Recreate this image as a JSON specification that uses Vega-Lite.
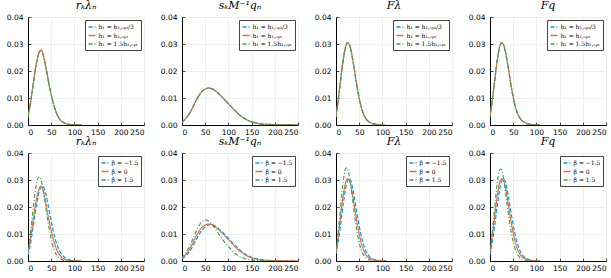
{
"$schema": "https://vega.github.io/schema/vega-lite/v6.json",
"background": "white",
"padding": {"left": 6, "top": 0, "right": 4, "bottom": 1},
"config": {
  "view": {"stroke": null},
  "font": "DejaVu Sans",
  "title": {"font": "DejaVu Serif", "fontStyle": "italic", "fontWeight": "normal", "fontSize": 11, "offset": 2, "anchor": "middle", "color": "#000"},
  "axis": {"grid": true, "gridColor": "#e4e4e4", "gridWidth": 0.6, "domainColor": "#000", "domainWidth": 1, "ticks": true, "tickSize": -3, "tickColor": "#222", "tickWidth": 0.8, "labelFontSize": 7.5, "labelColor": "#000", "labelPadding": 8, "title": null},
  "axisX": {"labelPadding": 6},
  "legend": {"orient": "top-right", "offset": 3, "padding": 2.5, "strokeColor": "#444", "fillColor": "white", "cornerRadius": 0, "labelFontSize": 6, "labelFont": "DejaVu Serif", "labelColor": "#000", "symbolType": "stroke", "symbolSize": 49, "symbolStrokeWidth": 1.3, "rowPadding": 0.5, "labelOffset": 2, "title": null}
},
"data": {"values": [
{"p":1,"s":"a","x":0,"y":0.0029},{"p":1,"s":"a","x":4,"y":0.0067},{"p":1,"s":"a","x":8,"y":0.0111},{"p":1,"s":"a","x":12,"y":0.016},{"p":1,"s":"a","x":16,"y":0.0208},{"p":1,"s":"a","x":20,"y":0.0245},{"p":1,"s":"a","x":24,"y":0.0269},{"p":1,"s":"a","x":28,"y":0.0277},{"p":1,"s":"a","x":32,"y":0.0266},{"p":1,"s":"a","x":36,"y":0.0237},{"p":1,"s":"a","x":40,"y":0.02},{"p":1,"s":"a","x":44,"y":0.0162},{"p":1,"s":"a","x":48,"y":0.0128},{"p":1,"s":"a","x":52,"y":0.0098},{"p":1,"s":"a","x":56,"y":0.0072},{"p":1,"s":"a","x":60,"y":0.005},{"p":1,"s":"a","x":65,"y":0.0031},{"p":1,"s":"a","x":70,"y":0.0018},{"p":1,"s":"a","x":75,"y":0.0011},{"p":1,"s":"a","x":80,"y":0.0006},{"p":1,"s":"a","x":90,"y":0.0002},{"p":1,"s":"a","x":100,"y":0.0001},{"p":1,"s":"a","x":115,"y":0},
{"p":1,"s":"b","x":0,"y":0.003},{"p":1,"s":"b","x":4,"y":0.0068},{"p":1,"s":"b","x":8,"y":0.0112},{"p":1,"s":"b","x":12,"y":0.0161},{"p":1,"s":"b","x":16,"y":0.0208},{"p":1,"s":"b","x":20,"y":0.0244},{"p":1,"s":"b","x":24,"y":0.0268},{"p":1,"s":"b","x":28,"y":0.0277},{"p":1,"s":"b","x":32,"y":0.0265},{"p":1,"s":"b","x":36,"y":0.0236},{"p":1,"s":"b","x":40,"y":0.0199},{"p":1,"s":"b","x":44,"y":0.0162},{"p":1,"s":"b","x":48,"y":0.0128},{"p":1,"s":"b","x":52,"y":0.0098},{"p":1,"s":"b","x":56,"y":0.0072},{"p":1,"s":"b","x":60,"y":0.005},{"p":1,"s":"b","x":65,"y":0.0031},{"p":1,"s":"b","x":70,"y":0.0018},{"p":1,"s":"b","x":75,"y":0.0011},{"p":1,"s":"b","x":80,"y":0.0006},{"p":1,"s":"b","x":90,"y":0.0002},{"p":1,"s":"b","x":100,"y":0.0001},{"p":1,"s":"b","x":115,"y":0},
{"p":1,"s":"c","x":0,"y":0.0031},{"p":1,"s":"c","x":4,"y":0.0069},{"p":1,"s":"c","x":8,"y":0.0113},{"p":1,"s":"c","x":12,"y":0.0162},{"p":1,"s":"c","x":16,"y":0.0208},{"p":1,"s":"c","x":20,"y":0.0244},{"p":1,"s":"c","x":24,"y":0.0268},{"p":1,"s":"c","x":28,"y":0.0278},{"p":1,"s":"c","x":32,"y":0.0265},{"p":1,"s":"c","x":36,"y":0.0236},{"p":1,"s":"c","x":40,"y":0.0198},{"p":1,"s":"c","x":44,"y":0.0161},{"p":1,"s":"c","x":48,"y":0.0128},{"p":1,"s":"c","x":52,"y":0.0098},{"p":1,"s":"c","x":56,"y":0.0072},{"p":1,"s":"c","x":60,"y":0.005},{"p":1,"s":"c","x":65,"y":0.0031},{"p":1,"s":"c","x":70,"y":0.0018},{"p":1,"s":"c","x":75,"y":0.0011},{"p":1,"s":"c","x":80,"y":0.0006},{"p":1,"s":"c","x":90,"y":0.0002},{"p":1,"s":"c","x":100,"y":0.0001},{"p":1,"s":"c","x":115,"y":0},
{"p":2,"s":"a","x":0,"y":0.001},{"p":2,"s":"a","x":10,"y":0.0028},{"p":2,"s":"a","x":20,"y":0.0054},{"p":2,"s":"a","x":30,"y":0.0089},{"p":2,"s":"a","x":40,"y":0.0118},{"p":2,"s":"a","x":50,"y":0.0134},{"p":2,"s":"a","x":57,"y":0.0137},{"p":2,"s":"a","x":65,"y":0.0134},{"p":2,"s":"a","x":75,"y":0.0122},{"p":2,"s":"a","x":85,"y":0.0106},{"p":2,"s":"a","x":95,"y":0.0088},{"p":2,"s":"a","x":105,"y":0.007},{"p":2,"s":"a","x":115,"y":0.0052},{"p":2,"s":"a","x":125,"y":0.0036},{"p":2,"s":"a","x":135,"y":0.0024},{"p":2,"s":"a","x":145,"y":0.0015},{"p":2,"s":"a","x":155,"y":0.0009},{"p":2,"s":"a","x":170,"y":0.0004},{"p":2,"s":"a","x":190,"y":0.0002},{"p":2,"s":"a","x":210,"y":0.0001},{"p":2,"s":"a","x":250,"y":0},
{"p":2,"s":"b","x":0,"y":0.001},{"p":2,"s":"b","x":10,"y":0.0028},{"p":2,"s":"b","x":20,"y":0.0055},{"p":2,"s":"b","x":30,"y":0.009},{"p":2,"s":"b","x":40,"y":0.0118},{"p":2,"s":"b","x":50,"y":0.0133},{"p":2,"s":"b","x":57,"y":0.0137},{"p":2,"s":"b","x":65,"y":0.0134},{"p":2,"s":"b","x":75,"y":0.0122},{"p":2,"s":"b","x":85,"y":0.0106},{"p":2,"s":"b","x":95,"y":0.0088},{"p":2,"s":"b","x":105,"y":0.007},{"p":2,"s":"b","x":115,"y":0.0052},{"p":2,"s":"b","x":125,"y":0.0036},{"p":2,"s":"b","x":135,"y":0.0024},{"p":2,"s":"b","x":145,"y":0.0015},{"p":2,"s":"b","x":155,"y":0.0009},{"p":2,"s":"b","x":170,"y":0.0004},{"p":2,"s":"b","x":190,"y":0.0002},{"p":2,"s":"b","x":210,"y":0.0001},{"p":2,"s":"b","x":250,"y":0},
{"p":2,"s":"c","x":0,"y":0.0011},{"p":2,"s":"c","x":10,"y":0.0029},{"p":2,"s":"c","x":20,"y":0.0055},{"p":2,"s":"c","x":30,"y":0.009},{"p":2,"s":"c","x":40,"y":0.0118},{"p":2,"s":"c","x":50,"y":0.0133},{"p":2,"s":"c","x":57,"y":0.0136},{"p":2,"s":"c","x":65,"y":0.0134},{"p":2,"s":"c","x":75,"y":0.0122},{"p":2,"s":"c","x":85,"y":0.0106},{"p":2,"s":"c","x":95,"y":0.0088},{"p":2,"s":"c","x":105,"y":0.007},{"p":2,"s":"c","x":115,"y":0.0052},{"p":2,"s":"c","x":125,"y":0.0036},{"p":2,"s":"c","x":135,"y":0.0024},{"p":2,"s":"c","x":145,"y":0.0015},{"p":2,"s":"c","x":155,"y":0.0009},{"p":2,"s":"c","x":170,"y":0.0004},{"p":2,"s":"c","x":190,"y":0.0002},{"p":2,"s":"c","x":210,"y":0.0001},{"p":2,"s":"c","x":250,"y":0},
{"p":3,"s":"a","x":0,"y":0.0029},{"p":3,"s":"a","x":4,"y":0.0081},{"p":3,"s":"a","x":8,"y":0.0137},{"p":3,"s":"a","x":12,"y":0.0195},{"p":3,"s":"a","x":16,"y":0.0247},{"p":3,"s":"a","x":20,"y":0.0284},{"p":3,"s":"a","x":25,"y":0.0304},{"p":3,"s":"a","x":30,"y":0.0293},{"p":3,"s":"a","x":34,"y":0.0262},{"p":3,"s":"a","x":38,"y":0.0222},{"p":3,"s":"a","x":42,"y":0.0178},{"p":3,"s":"a","x":46,"y":0.0136},{"p":3,"s":"a","x":50,"y":0.0099},{"p":3,"s":"a","x":55,"y":0.0063},{"p":3,"s":"a","x":60,"y":0.0038},{"p":3,"s":"a","x":65,"y":0.0022},{"p":3,"s":"a","x":70,"y":0.0013},{"p":3,"s":"a","x":75,"y":0.0008},{"p":3,"s":"a","x":80,"y":0.0005},{"p":3,"s":"a","x":90,"y":0.0002},{"p":3,"s":"a","x":105,"y":0},
{"p":3,"s":"b","x":0,"y":0.003},{"p":3,"s":"b","x":4,"y":0.0082},{"p":3,"s":"b","x":8,"y":0.0138},{"p":3,"s":"b","x":12,"y":0.0196},{"p":3,"s":"b","x":16,"y":0.0248},{"p":3,"s":"b","x":20,"y":0.0285},{"p":3,"s":"b","x":25,"y":0.0305},{"p":3,"s":"b","x":30,"y":0.0293},{"p":3,"s":"b","x":34,"y":0.0262},{"p":3,"s":"b","x":38,"y":0.0222},{"p":3,"s":"b","x":42,"y":0.0178},{"p":3,"s":"b","x":46,"y":0.0136},{"p":3,"s":"b","x":50,"y":0.0099},{"p":3,"s":"b","x":55,"y":0.0063},{"p":3,"s":"b","x":60,"y":0.0038},{"p":3,"s":"b","x":65,"y":0.0022},{"p":3,"s":"b","x":70,"y":0.0013},{"p":3,"s":"b","x":75,"y":0.0008},{"p":3,"s":"b","x":80,"y":0.0005},{"p":3,"s":"b","x":90,"y":0.0002},{"p":3,"s":"b","x":105,"y":0},
{"p":3,"s":"c","x":0,"y":0.0031},{"p":3,"s":"c","x":4,"y":0.0083},{"p":3,"s":"c","x":8,"y":0.0139},{"p":3,"s":"c","x":12,"y":0.0196},{"p":3,"s":"c","x":16,"y":0.0248},{"p":3,"s":"c","x":20,"y":0.0285},{"p":3,"s":"c","x":25,"y":0.0305},{"p":3,"s":"c","x":30,"y":0.0292},{"p":3,"s":"c","x":34,"y":0.0261},{"p":3,"s":"c","x":38,"y":0.0221},{"p":3,"s":"c","x":42,"y":0.0178},{"p":3,"s":"c","x":46,"y":0.0136},{"p":3,"s":"c","x":50,"y":0.0099},{"p":3,"s":"c","x":55,"y":0.0063},{"p":3,"s":"c","x":60,"y":0.0038},{"p":3,"s":"c","x":65,"y":0.0022},{"p":3,"s":"c","x":70,"y":0.0013},{"p":3,"s":"c","x":75,"y":0.0008},{"p":3,"s":"c","x":80,"y":0.0005},{"p":3,"s":"c","x":90,"y":0.0002},{"p":3,"s":"c","x":105,"y":0},
{"p":4,"s":"a","x":0,"y":0.0029},{"p":4,"s":"a","x":4,"y":0.0079},{"p":4,"s":"a","x":8,"y":0.0134},{"p":4,"s":"a","x":12,"y":0.0192},{"p":4,"s":"a","x":16,"y":0.0244},{"p":4,"s":"a","x":20,"y":0.0283},{"p":4,"s":"a","x":25,"y":0.0304},{"p":4,"s":"a","x":30,"y":0.0294},{"p":4,"s":"a","x":34,"y":0.0265},{"p":4,"s":"a","x":38,"y":0.0226},{"p":4,"s":"a","x":42,"y":0.0183},{"p":4,"s":"a","x":46,"y":0.014},{"p":4,"s":"a","x":50,"y":0.0103},{"p":4,"s":"a","x":55,"y":0.0066},{"p":4,"s":"a","x":60,"y":0.004},{"p":4,"s":"a","x":65,"y":0.0024},{"p":4,"s":"a","x":70,"y":0.0014},{"p":4,"s":"a","x":75,"y":0.0009},{"p":4,"s":"a","x":80,"y":0.0005},{"p":4,"s":"a","x":90,"y":0.0002},{"p":4,"s":"a","x":108,"y":0},
{"p":4,"s":"b","x":0,"y":0.003},{"p":4,"s":"b","x":4,"y":0.008},{"p":4,"s":"b","x":8,"y":0.0135},{"p":4,"s":"b","x":12,"y":0.0193},{"p":4,"s":"b","x":16,"y":0.0245},{"p":4,"s":"b","x":20,"y":0.0284},{"p":4,"s":"b","x":25,"y":0.0304},{"p":4,"s":"b","x":30,"y":0.0294},{"p":4,"s":"b","x":34,"y":0.0265},{"p":4,"s":"b","x":38,"y":0.0226},{"p":4,"s":"b","x":42,"y":0.0183},{"p":4,"s":"b","x":46,"y":0.014},{"p":4,"s":"b","x":50,"y":0.0103},{"p":4,"s":"b","x":55,"y":0.0066},{"p":4,"s":"b","x":60,"y":0.004},{"p":4,"s":"b","x":65,"y":0.0024},{"p":4,"s":"b","x":70,"y":0.0014},{"p":4,"s":"b","x":75,"y":0.0009},{"p":4,"s":"b","x":80,"y":0.0005},{"p":4,"s":"b","x":90,"y":0.0002},{"p":4,"s":"b","x":108,"y":0},
{"p":4,"s":"c","x":0,"y":0.0031},{"p":4,"s":"c","x":4,"y":0.0081},{"p":4,"s":"c","x":8,"y":0.0136},{"p":4,"s":"c","x":12,"y":0.0193},{"p":4,"s":"c","x":16,"y":0.0245},{"p":4,"s":"c","x":20,"y":0.0284},{"p":4,"s":"c","x":25,"y":0.0305},{"p":4,"s":"c","x":30,"y":0.0293},{"p":4,"s":"c","x":34,"y":0.0264},{"p":4,"s":"c","x":38,"y":0.0225},{"p":4,"s":"c","x":42,"y":0.0183},{"p":4,"s":"c","x":46,"y":0.014},{"p":4,"s":"c","x":50,"y":0.0103},{"p":4,"s":"c","x":55,"y":0.0066},{"p":4,"s":"c","x":60,"y":0.004},{"p":4,"s":"c","x":65,"y":0.0024},{"p":4,"s":"c","x":70,"y":0.0014},{"p":4,"s":"c","x":75,"y":0.0009},{"p":4,"s":"c","x":80,"y":0.0005},{"p":4,"s":"c","x":90,"y":0.0002},{"p":4,"s":"c","x":108,"y":0},
{"p":5,"s":"a","x":0,"y":0.0022},{"p":5,"s":"a","x":4,"y":0.0052},{"p":5,"s":"a","x":8,"y":0.0091},{"p":5,"s":"a","x":12,"y":0.0137},{"p":5,"s":"a","x":16,"y":0.0183},{"p":5,"s":"a","x":20,"y":0.0224},{"p":5,"s":"a","x":24,"y":0.0256},{"p":5,"s":"a","x":28,"y":0.0274},{"p":5,"s":"a","x":31,"y":0.0277},{"p":5,"s":"a","x":34,"y":0.0272},{"p":5,"s":"a","x":38,"y":0.0251},{"p":5,"s":"a","x":42,"y":0.0219},{"p":5,"s":"a","x":46,"y":0.0183},{"p":5,"s":"a","x":50,"y":0.0147},{"p":5,"s":"a","x":54,"y":0.0114},{"p":5,"s":"a","x":58,"y":0.0086},{"p":5,"s":"a","x":62,"y":0.0063},{"p":5,"s":"a","x":66,"y":0.0045},{"p":5,"s":"a","x":70,"y":0.0032},{"p":5,"s":"a","x":75,"y":0.002},{"p":5,"s":"a","x":80,"y":0.0012},{"p":5,"s":"a","x":90,"y":0.0004},{"p":5,"s":"a","x":100,"y":0.0001},{"p":5,"s":"a","x":115,"y":0},
{"p":5,"s":"b","x":0,"y":0.003},{"p":5,"s":"b","x":4,"y":0.0068},{"p":5,"s":"b","x":8,"y":0.0112},{"p":5,"s":"b","x":12,"y":0.0161},{"p":5,"s":"b","x":16,"y":0.0208},{"p":5,"s":"b","x":20,"y":0.0244},{"p":5,"s":"b","x":24,"y":0.0268},{"p":5,"s":"b","x":28,"y":0.0277},{"p":5,"s":"b","x":32,"y":0.0265},{"p":5,"s":"b","x":36,"y":0.0236},{"p":5,"s":"b","x":40,"y":0.0199},{"p":5,"s":"b","x":44,"y":0.0162},{"p":5,"s":"b","x":48,"y":0.0128},{"p":5,"s":"b","x":52,"y":0.0098},{"p":5,"s":"b","x":56,"y":0.0072},{"p":5,"s":"b","x":60,"y":0.005},{"p":5,"s":"b","x":65,"y":0.0031},{"p":5,"s":"b","x":70,"y":0.0018},{"p":5,"s":"b","x":75,"y":0.0011},{"p":5,"s":"b","x":80,"y":0.0006},{"p":5,"s":"b","x":90,"y":0.0002},{"p":5,"s":"b","x":100,"y":0.0001},{"p":5,"s":"b","x":115,"y":0},
{"p":5,"s":"c","x":0,"y":0.0035},{"p":5,"s":"c","x":4,"y":0.0085},{"p":5,"s":"c","x":8,"y":0.0145},{"p":5,"s":"c","x":12,"y":0.0208},{"p":5,"s":"c","x":16,"y":0.0263},{"p":5,"s":"c","x":20,"y":0.0299},{"p":5,"s":"c","x":24,"y":0.0312},{"p":5,"s":"c","x":28,"y":0.0301},{"p":5,"s":"c","x":32,"y":0.0269},{"p":5,"s":"c","x":36,"y":0.0226},{"p":5,"s":"c","x":40,"y":0.018},{"p":5,"s":"c","x":44,"y":0.0136},{"p":5,"s":"c","x":48,"y":0.0097},{"p":5,"s":"c","x":52,"y":0.0066},{"p":5,"s":"c","x":56,"y":0.0043},{"p":5,"s":"c","x":60,"y":0.0027},{"p":5,"s":"c","x":65,"y":0.0015},{"p":5,"s":"c","x":70,"y":0.0008},{"p":5,"s":"c","x":80,"y":0.0002},{"p":5,"s":"c","x":90,"y":0.0001},{"p":5,"s":"c","x":100,"y":0},
{"p":6,"s":"a","x":0,"y":0.0008},{"p":6,"s":"a","x":10,"y":0.0022},{"p":6,"s":"a","x":20,"y":0.0045},{"p":6,"s":"a","x":30,"y":0.0077},{"p":6,"s":"a","x":40,"y":0.0107},{"p":6,"s":"a","x":50,"y":0.0127},{"p":6,"s":"a","x":60,"y":0.0135},{"p":6,"s":"a","x":70,"y":0.0131},{"p":6,"s":"a","x":80,"y":0.0119},{"p":6,"s":"a","x":90,"y":0.0102},{"p":6,"s":"a","x":100,"y":0.0084},{"p":6,"s":"a","x":110,"y":0.0066},{"p":6,"s":"a","x":120,"y":0.0049},{"p":6,"s":"a","x":130,"y":0.0034},{"p":6,"s":"a","x":140,"y":0.0022},{"p":6,"s":"a","x":150,"y":0.0014},{"p":6,"s":"a","x":160,"y":0.0009},{"p":6,"s":"a","x":175,"y":0.0004},{"p":6,"s":"a","x":200,"y":0.0001},{"p":6,"s":"a","x":250,"y":0},
{"p":6,"s":"b","x":0,"y":0.001},{"p":6,"s":"b","x":10,"y":0.0028},{"p":6,"s":"b","x":20,"y":0.0055},{"p":6,"s":"b","x":30,"y":0.009},{"p":6,"s":"b","x":40,"y":0.0118},{"p":6,"s":"b","x":50,"y":0.0133},{"p":6,"s":"b","x":57,"y":0.0137},{"p":6,"s":"b","x":65,"y":0.0134},{"p":6,"s":"b","x":75,"y":0.0122},{"p":6,"s":"b","x":85,"y":0.0106},{"p":6,"s":"b","x":95,"y":0.0088},{"p":6,"s":"b","x":105,"y":0.007},{"p":6,"s":"b","x":115,"y":0.0052},{"p":6,"s":"b","x":125,"y":0.0036},{"p":6,"s":"b","x":135,"y":0.0024},{"p":6,"s":"b","x":145,"y":0.0015},{"p":6,"s":"b","x":155,"y":0.0009},{"p":6,"s":"b","x":170,"y":0.0004},{"p":6,"s":"b","x":190,"y":0.0002},{"p":6,"s":"b","x":210,"y":0.0001},{"p":6,"s":"b","x":250,"y":0},
{"p":6,"s":"c","x":0,"y":0.0012},{"p":6,"s":"c","x":10,"y":0.0035},{"p":6,"s":"c","x":20,"y":0.0068},{"p":6,"s":"c","x":30,"y":0.0108},{"p":6,"s":"c","x":40,"y":0.0139},{"p":6,"s":"c","x":50,"y":0.0152},{"p":6,"s":"c","x":60,"y":0.0144},{"p":6,"s":"c","x":70,"y":0.0123},{"p":6,"s":"c","x":80,"y":0.0098},{"p":6,"s":"c","x":90,"y":0.0074},{"p":6,"s":"c","x":100,"y":0.0053},{"p":6,"s":"c","x":110,"y":0.0035},{"p":6,"s":"c","x":120,"y":0.0021},{"p":6,"s":"c","x":130,"y":0.0012},{"p":6,"s":"c","x":140,"y":0.0007},{"p":6,"s":"c","x":150,"y":0.0004},{"p":6,"s":"c","x":170,"y":0.0001},{"p":6,"s":"c","x":200,"y":0},
{"p":7,"s":"a","x":0,"y":0.0025},{"p":7,"s":"a","x":4,"y":0.0062},{"p":7,"s":"a","x":8,"y":0.0109},{"p":7,"s":"a","x":12,"y":0.0162},{"p":7,"s":"a","x":16,"y":0.0215},{"p":7,"s":"a","x":20,"y":0.0261},{"p":7,"s":"a","x":24,"y":0.0293},{"p":7,"s":"a","x":28,"y":0.0305},{"p":7,"s":"a","x":32,"y":0.0297},{"p":7,"s":"a","x":36,"y":0.027},{"p":7,"s":"a","x":40,"y":0.0232},{"p":7,"s":"a","x":44,"y":0.019},{"p":7,"s":"a","x":48,"y":0.0149},{"p":7,"s":"a","x":52,"y":0.0112},{"p":7,"s":"a","x":56,"y":0.0081},{"p":7,"s":"a","x":60,"y":0.0057},{"p":7,"s":"a","x":65,"y":0.0035},{"p":7,"s":"a","x":70,"y":0.0021},{"p":7,"s":"a","x":75,"y":0.0012},{"p":7,"s":"a","x":80,"y":0.0007},{"p":7,"s":"a","x":90,"y":0.0002},{"p":7,"s":"a","x":100,"y":0.0001},{"p":7,"s":"a","x":110,"y":0},
{"p":7,"s":"b","x":0,"y":0.003},{"p":7,"s":"b","x":4,"y":0.0082},{"p":7,"s":"b","x":8,"y":0.0138},{"p":7,"s":"b","x":12,"y":0.0196},{"p":7,"s":"b","x":16,"y":0.0248},{"p":7,"s":"b","x":20,"y":0.0285},{"p":7,"s":"b","x":25,"y":0.0305},{"p":7,"s":"b","x":30,"y":0.0293},{"p":7,"s":"b","x":34,"y":0.0262},{"p":7,"s":"b","x":38,"y":0.0222},{"p":7,"s":"b","x":42,"y":0.0178},{"p":7,"s":"b","x":46,"y":0.0136},{"p":7,"s":"b","x":50,"y":0.0099},{"p":7,"s":"b","x":55,"y":0.0063},{"p":7,"s":"b","x":60,"y":0.0038},{"p":7,"s":"b","x":65,"y":0.0022},{"p":7,"s":"b","x":70,"y":0.0013},{"p":7,"s":"b","x":75,"y":0.0008},{"p":7,"s":"b","x":80,"y":0.0005},{"p":7,"s":"b","x":90,"y":0.0002},{"p":7,"s":"b","x":105,"y":0},
{"p":7,"s":"c","x":0,"y":0.0035},{"p":7,"s":"c","x":4,"y":0.0095},{"p":7,"s":"c","x":8,"y":0.0165},{"p":7,"s":"c","x":12,"y":0.0238},{"p":7,"s":"c","x":16,"y":0.03},{"p":7,"s":"c","x":20,"y":0.0338},{"p":7,"s":"c","x":23,"y":0.0345},{"p":7,"s":"c","x":26,"y":0.0336},{"p":7,"s":"c","x":30,"y":0.0301},{"p":7,"s":"c","x":34,"y":0.0251},{"p":7,"s":"c","x":38,"y":0.0196},{"p":7,"s":"c","x":42,"y":0.0145},{"p":7,"s":"c","x":46,"y":0.0102},{"p":7,"s":"c","x":50,"y":0.0068},{"p":7,"s":"c","x":55,"y":0.0039},{"p":7,"s":"c","x":60,"y":0.0021},{"p":7,"s":"c","x":65,"y":0.0011},{"p":7,"s":"c","x":70,"y":0.0006},{"p":7,"s":"c","x":80,"y":0.0002},{"p":7,"s":"c","x":90,"y":0},
{"p":8,"s":"a","x":0,"y":0.0024},{"p":8,"s":"a","x":4,"y":0.006},{"p":8,"s":"a","x":8,"y":0.0105},{"p":8,"s":"a","x":12,"y":0.0157},{"p":8,"s":"a","x":16,"y":0.0209},{"p":8,"s":"a","x":20,"y":0.0256},{"p":8,"s":"a","x":24,"y":0.029},{"p":8,"s":"a","x":28,"y":0.0304},{"p":8,"s":"a","x":32,"y":0.0298},{"p":8,"s":"a","x":36,"y":0.0273},{"p":8,"s":"a","x":40,"y":0.0236},{"p":8,"s":"a","x":44,"y":0.0194},{"p":8,"s":"a","x":48,"y":0.0153},{"p":8,"s":"a","x":52,"y":0.0116},{"p":8,"s":"a","x":56,"y":0.0084},{"p":8,"s":"a","x":60,"y":0.0059},{"p":8,"s":"a","x":65,"y":0.0037},{"p":8,"s":"a","x":70,"y":0.0022},{"p":8,"s":"a","x":75,"y":0.0013},{"p":8,"s":"a","x":80,"y":0.0008},{"p":8,"s":"a","x":90,"y":0.0003},{"p":8,"s":"a","x":100,"y":0.0001},{"p":8,"s":"a","x":110,"y":0},
{"p":8,"s":"b","x":0,"y":0.003},{"p":8,"s":"b","x":4,"y":0.008},{"p":8,"s":"b","x":8,"y":0.0135},{"p":8,"s":"b","x":12,"y":0.0193},{"p":8,"s":"b","x":16,"y":0.0245},{"p":8,"s":"b","x":20,"y":0.0284},{"p":8,"s":"b","x":25,"y":0.0304},{"p":8,"s":"b","x":30,"y":0.0294},{"p":8,"s":"b","x":34,"y":0.0265},{"p":8,"s":"b","x":38,"y":0.0226},{"p":8,"s":"b","x":42,"y":0.0183},{"p":8,"s":"b","x":46,"y":0.014},{"p":8,"s":"b","x":50,"y":0.0103},{"p":8,"s":"b","x":55,"y":0.0066},{"p":8,"s":"b","x":60,"y":0.004},{"p":8,"s":"b","x":65,"y":0.0024},{"p":8,"s":"b","x":70,"y":0.0014},{"p":8,"s":"b","x":75,"y":0.0009},{"p":8,"s":"b","x":80,"y":0.0005},{"p":8,"s":"b","x":90,"y":0.0002},{"p":8,"s":"b","x":108,"y":0},
{"p":8,"s":"c","x":0,"y":0.0035},{"p":8,"s":"c","x":4,"y":0.0093},{"p":8,"s":"c","x":8,"y":0.0162},{"p":8,"s":"c","x":12,"y":0.0234},{"p":8,"s":"c","x":16,"y":0.0295},{"p":8,"s":"c","x":20,"y":0.0333},{"p":8,"s":"c","x":23,"y":0.034},{"p":8,"s":"c","x":26,"y":0.0332},{"p":8,"s":"c","x":30,"y":0.0298},{"p":8,"s":"c","x":34,"y":0.0249},{"p":8,"s":"c","x":38,"y":0.0196},{"p":8,"s":"c","x":42,"y":0.0146},{"p":8,"s":"c","x":46,"y":0.0104},{"p":8,"s":"c","x":50,"y":0.007},{"p":8,"s":"c","x":55,"y":0.004},{"p":8,"s":"c","x":60,"y":0.0022},{"p":8,"s":"c","x":65,"y":0.0012},{"p":8,"s":"c","x":70,"y":0.0006},{"p":8,"s":"c","x":80,"y":0.0002},{"p":8,"s":"c","x":90,"y":0}
]},
"columns": 4,
"spacing": {"row": 0, "column": 15},
"resolve": {"scale": {"color": "independent", "strokeDash": "independent", "x": "independent", "y": "independent"}, "legend": {"color": "independent", "strokeDash": "independent"}},
"concat": [
{"title": "rₖλₙ", "width": 116, "height": 108, "transform": [{"filter": "datum.p == 1"}], "mark": {"type": "line", "strokeWidth": 1.2, "interpolate": "monotone", "clip": true},
 "encoding": {"x": {"field": "x", "type": "quantitative", "scale": {"domain": [0, 250], "nice": false}, "axis": {"values": [0, 50, 100, 150, 200, 250]}},
  "y": {"field": "y", "type": "quantitative", "scale": {"domain": [0, 0.04], "nice": false}, "axis": {"values": [0, 0.01, 0.02, 0.03, 0.04], "format": ".2f"}},
  "color": {"field": "s", "type": "nominal", "scale": {"domain": ["a", "b", "c"], "range": ["#009AFA", "#E36F47", "#3EA44E"]}, "legend": {"labelExpr": "datum.label == 'a' ? 'h₁ = h₁,ₒₚₜ/3' : datum.label == 'b' ? 'h₁ = h₁,ₒₚₜ' : 'h₁ = 1.5h₁,ₒₚₜ'"}},
  "strokeDash": {"field": "s", "type": "nominal", "scale": {"domain": ["a", "b", "c"], "range": [[4, 2], [1, 0], [4, 2, 1, 2]]}, "legend": {"labelExpr": "datum.label == 'a' ? 'h₁ = h₁,ₒₚₜ/3' : datum.label == 'b' ? 'h₁ = h₁,ₒₚₜ' : 'h₁ = 1.5h₁,ₒₚₜ'"}}}},
{"title": "sₖM⁻¹qₙ", "width": 116, "height": 108, "transform": [{"filter": "datum.p == 2"}], "mark": {"type": "line", "strokeWidth": 1.2, "interpolate": "monotone", "clip": true},
 "encoding": {"x": {"field": "x", "type": "quantitative", "scale": {"domain": [0, 250], "nice": false}, "axis": {"values": [0, 50, 100, 150, 200, 250]}},
  "y": {"field": "y", "type": "quantitative", "scale": {"domain": [0, 0.04], "nice": false}, "axis": {"values": [0, 0.01, 0.02, 0.03, 0.04], "format": ".2f"}},
  "color": {"field": "s", "type": "nominal", "scale": {"domain": ["a", "b", "c"], "range": ["#009AFA", "#E36F47", "#3EA44E"]}, "legend": {"labelExpr": "datum.label == 'a' ? 'h₁ = h₁,ₒₚₜ/3' : datum.label == 'b' ? 'h₁ = h₁,ₒₚₜ' : 'h₁ = 1.5h₁,ₒₚₜ'"}},
  "strokeDash": {"field": "s", "type": "nominal", "scale": {"domain": ["a", "b", "c"], "range": [[4, 2], [1, 0], [4, 2, 1, 2]]}, "legend": {"labelExpr": "datum.label == 'a' ? 'h₁ = h₁,ₒₚₜ/3' : datum.label == 'b' ? 'h₁ = h₁,ₒₚₜ' : 'h₁ = 1.5h₁,ₒₚₜ'"}}}},
{"title": "Fλ", "width": 116, "height": 108, "transform": [{"filter": "datum.p == 3"}], "mark": {"type": "line", "strokeWidth": 1.2, "interpolate": "monotone", "clip": true},
 "encoding": {"x": {"field": "x", "type": "quantitative", "scale": {"domain": [0, 250], "nice": false}, "axis": {"values": [0, 50, 100, 150, 200, 250]}},
  "y": {"field": "y", "type": "quantitative", "scale": {"domain": [0, 0.04], "nice": false}, "axis": {"values": [0, 0.01, 0.02, 0.03, 0.04], "format": ".2f"}},
  "color": {"field": "s", "type": "nominal", "scale": {"domain": ["a", "b", "c"], "range": ["#009AFA", "#E36F47", "#3EA44E"]}, "legend": {"labelExpr": "datum.label == 'a' ? 'h₁ = h₁,ₒₚₜ/3' : datum.label == 'b' ? 'h₁ = h₁,ₒₚₜ' : 'h₁ = 1.5h₁,ₒₚₜ'"}},
  "strokeDash": {"field": "s", "type": "nominal", "scale": {"domain": ["a", "b", "c"], "range": [[4, 2], [1, 0], [4, 2, 1, 2]]}, "legend": {"labelExpr": "datum.label == 'a' ? 'h₁ = h₁,ₒₚₜ/3' : datum.label == 'b' ? 'h₁ = h₁,ₒₚₜ' : 'h₁ = 1.5h₁,ₒₚₜ'"}}}},
{"title": "Fq", "width": 116, "height": 108, "transform": [{"filter": "datum.p == 4"}], "mark": {"type": "line", "strokeWidth": 1.2, "interpolate": "monotone", "clip": true},
 "encoding": {"x": {"field": "x", "type": "quantitative", "scale": {"domain": [0, 250], "nice": false}, "axis": {"values": [0, 50, 100, 150, 200, 250]}},
  "y": {"field": "y", "type": "quantitative", "scale": {"domain": [0, 0.04], "nice": false}, "axis": {"values": [0, 0.01, 0.02, 0.03, 0.04], "format": ".2f"}},
  "color": {"field": "s", "type": "nominal", "scale": {"domain": ["a", "b", "c"], "range": ["#009AFA", "#E36F47", "#3EA44E"]}, "legend": {"labelExpr": "datum.label == 'a' ? 'h₁ = h₁,ₒₚₜ/3' : datum.label == 'b' ? 'h₁ = h₁,ₒₚₜ' : 'h₁ = 1.5h₁,ₒₚₜ'"}},
  "strokeDash": {"field": "s", "type": "nominal", "scale": {"domain": ["a", "b", "c"], "range": [[4, 2], [1, 0], [4, 2, 1, 2]]}, "legend": {"labelExpr": "datum.label == 'a' ? 'h₁ = h₁,ₒₚₜ/3' : datum.label == 'b' ? 'h₁ = h₁,ₒₚₜ' : 'h₁ = 1.5h₁,ₒₚₜ'"}}}},
{"title": "rₖλₙ", "width": 116, "height": 108, "transform": [{"filter": "datum.p == 5"}], "mark": {"type": "line", "strokeWidth": 1.2, "interpolate": "monotone", "clip": true},
 "encoding": {"x": {"field": "x", "type": "quantitative", "scale": {"domain": [0, 250], "nice": false}, "axis": {"values": [0, 50, 100, 150, 200, 250]}},
  "y": {"field": "y", "type": "quantitative", "scale": {"domain": [0, 0.04], "nice": false}, "axis": {"values": [0, 0.01, 0.02, 0.03, 0.04], "format": ".2f"}},
  "color": {"field": "s", "type": "nominal", "scale": {"domain": ["a", "b", "c"], "range": ["#009AFA", "#E36F47", "#3EA44E"]}, "legend": {"labelExpr": "datum.label == 'a' ? 'β = −1.5' : datum.label == 'b' ? 'β = 0' : 'β = 1.5'"}},
  "strokeDash": {"field": "s", "type": "nominal", "scale": {"domain": ["a", "b", "c"], "range": [[4, 2], [1, 0], [4, 2, 1, 2]]}, "legend": {"labelExpr": "datum.label == 'a' ? 'β = −1.5' : datum.label == 'b' ? 'β = 0' : 'β = 1.5'"}}}},
{"title": "sₖM⁻¹qₙ", "width": 116, "height": 108, "transform": [{"filter": "datum.p == 6"}], "mark": {"type": "line", "strokeWidth": 1.2, "interpolate": "monotone", "clip": true},
 "encoding": {"x": {"field": "x", "type": "quantitative", "scale": {"domain": [0, 250], "nice": false}, "axis": {"values": [0, 50, 100, 150, 200, 250]}},
  "y": {"field": "y", "type": "quantitative", "scale": {"domain": [0, 0.04], "nice": false}, "axis": {"values": [0, 0.01, 0.02, 0.03, 0.04], "format": ".2f"}},
  "color": {"field": "s", "type": "nominal", "scale": {"domain": ["a", "b", "c"], "range": ["#009AFA", "#E36F47", "#3EA44E"]}, "legend": {"labelExpr": "datum.label == 'a' ? 'β = −1.5' : datum.label == 'b' ? 'β = 0' : 'β = 1.5'"}},
  "strokeDash": {"field": "s", "type": "nominal", "scale": {"domain": ["a", "b", "c"], "range": [[4, 2], [1, 0], [4, 2, 1, 2]]}, "legend": {"labelExpr": "datum.label == 'a' ? 'β = −1.5' : datum.label == 'b' ? 'β = 0' : 'β = 1.5'"}}}},
{"title": "Fλ", "width": 116, "height": 108, "transform": [{"filter": "datum.p == 7"}], "mark": {"type": "line", "strokeWidth": 1.2, "interpolate": "monotone", "clip": true},
 "encoding": {"x": {"field": "x", "type": "quantitative", "scale": {"domain": [0, 250], "nice": false}, "axis": {"values": [0, 50, 100, 150, 200, 250]}},
  "y": {"field": "y", "type": "quantitative", "scale": {"domain": [0, 0.04], "nice": false}, "axis": {"values": [0, 0.01, 0.02, 0.03, 0.04], "format": ".2f"}},
  "color": {"field": "s", "type": "nominal", "scale": {"domain": ["a", "b", "c"], "range": ["#009AFA", "#E36F47", "#3EA44E"]}, "legend": {"labelExpr": "datum.label == 'a' ? 'β = −1.5' : datum.label == 'b' ? 'β = 0' : 'β = 1.5'"}},
  "strokeDash": {"field": "s", "type": "nominal", "scale": {"domain": ["a", "b", "c"], "range": [[4, 2], [1, 0], [4, 2, 1, 2]]}, "legend": {"labelExpr": "datum.label == 'a' ? 'β = −1.5' : datum.label == 'b' ? 'β = 0' : 'β = 1.5'"}}}},
{"title": "Fq", "width": 116, "height": 108, "transform": [{"filter": "datum.p == 8"}], "mark": {"type": "line", "strokeWidth": 1.2, "interpolate": "monotone", "clip": true},
 "encoding": {"x": {"field": "x", "type": "quantitative", "scale": {"domain": [0, 250], "nice": false}, "axis": {"values": [0, 50, 100, 150, 200, 250]}},
  "y": {"field": "y", "type": "quantitative", "scale": {"domain": [0, 0.04], "nice": false}, "axis": {"values": [0, 0.01, 0.02, 0.03, 0.04], "format": ".2f"}},
  "color": {"field": "s", "type": "nominal", "scale": {"domain": ["a", "b", "c"], "range": ["#009AFA", "#E36F47", "#3EA44E"]}, "legend": {"labelExpr": "datum.label == 'a' ? 'β = −1.5' : datum.label == 'b' ? 'β = 0' : 'β = 1.5'"}},
  "strokeDash": {"field": "s", "type": "nominal", "scale": {"domain": ["a", "b", "c"], "range": [[4, 2], [1, 0], [4, 2, 1, 2]]}, "legend": {"labelExpr": "datum.label == 'a' ? 'β = −1.5' : datum.label == 'b' ? 'β = 0' : 'β = 1.5'"}}}}
]
}
